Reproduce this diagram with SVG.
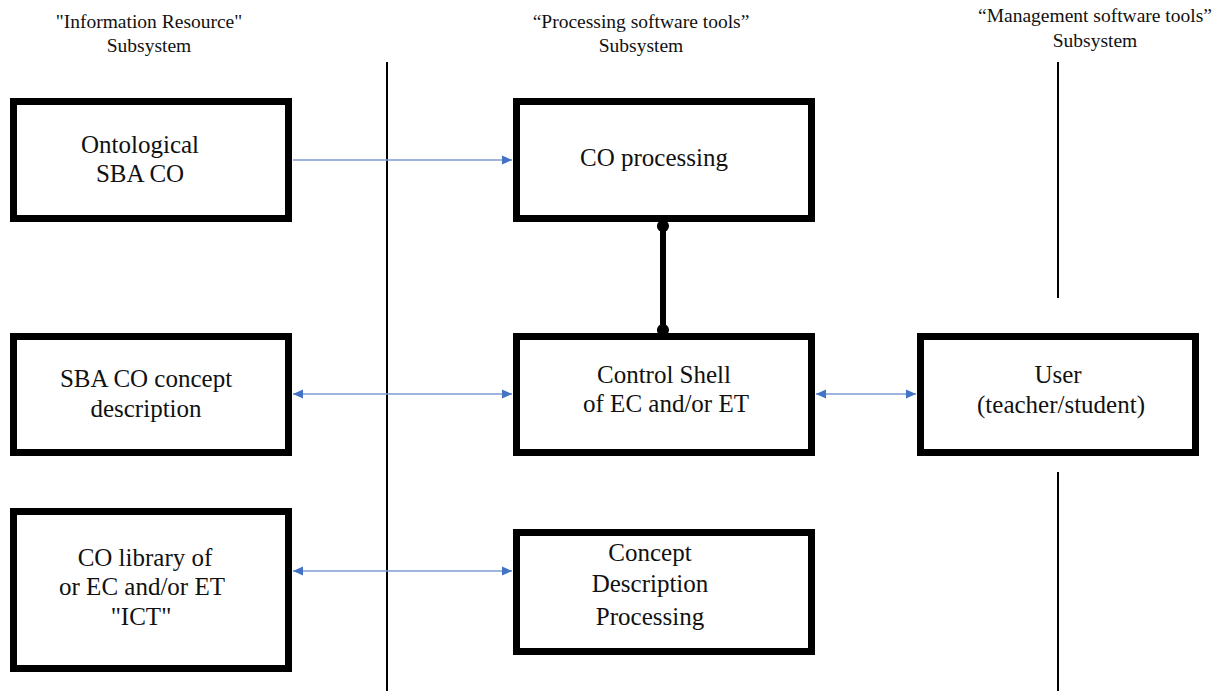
<svg xmlns="http://www.w3.org/2000/svg" width="1221" height="691" viewBox="0 0 1221 691">
<style>
.box{fill:#fff;stroke:#000;stroke-width:7}
.t{font-family:'Liberation Serif','Times New Roman',serif;font-size:25px;fill:#111;text-anchor:middle}
.h{font-family:'Liberation Serif','Times New Roman',serif;font-size:19.5px;fill:#111;text-anchor:middle}
.sep{stroke:#000;stroke-width:2}
.link{stroke:#7D9BD2;stroke-width:1.6;fill:none}
</style>
<defs>
<marker id="ah" viewBox="0 0 10 10" refX="10" refY="5" markerWidth="10" markerHeight="10" markerUnits="userSpaceOnUse" orient="auto-start-reverse">
<path d="M0,0.5 L10,5 L0,9.5 Z" fill="#4472C4"/>
</marker>
<marker id="dot" viewBox="0 0 14 14" refX="7" refY="7" markerWidth="13" markerHeight="13" markerUnits="userSpaceOnUse">
<circle cx="7" cy="7" r="6.5" fill="#000"/>
</marker>
</defs>
<rect width="1221" height="691" fill="#fff"/>
<g id="headers">
<text class="h" x="149" y="28">"Information Resource"</text>
<text class="h" x="149" y="52">Subsystem</text>
<text class="h" x="641" y="28">“Processing software tools”</text>
<text class="h" x="641" y="52">Subsystem</text>
<text class="h" x="1095" y="22">“Management software tools”</text>
<text class="h" x="1095" y="47">Subsystem</text>
</g>
<g id="separators">
<line class="sep" x1="387" y1="62" x2="387" y2="691"/>
<line class="sep" x1="1058" y1="62" x2="1058" y2="298"/>
<line class="sep" x1="1058" y1="472" x2="1058" y2="691"/>
</g>
<g id="connectors">
<line class="link" x1="293" y1="160" x2="512" y2="160" marker-end="url(#ah)"/>
<line class="link" x1="293" y1="394" x2="512" y2="394" marker-start="url(#ah)" marker-end="url(#ah)"/>
<line class="link" x1="816" y1="394" x2="916" y2="394" marker-start="url(#ah)" marker-end="url(#ah)"/>
<line class="link" x1="293" y1="571" x2="512" y2="571" marker-start="url(#ah)" marker-end="url(#ah)"/>
<line x1="663" y1="226" x2="663" y2="330" stroke="#000" stroke-width="6" marker-start="url(#dot)" marker-end="url(#dot)"/>
</g>
<g id="n-ontological">
<rect class="box" x="13.5" y="101.5" width="275" height="117"/>
<text class="t" x="140" y="153">Ontological</text>
<text class="t" x="140" y="182">SBA CO</text>
</g>
<g id="n-concept-description">
<rect class="box" x="13.5" y="336.5" width="275" height="116"/>
<text class="t" x="146" y="387">SBA CO concept</text>
<text class="t" x="146" y="417">description</text>
</g>
<g id="n-library">
<rect class="box" x="13.5" y="511.5" width="275" height="157"/>
<text class="t" x="145" y="566">CO library of</text>
<text class="t" x="142" y="595">or EC and/or ET</text>
<text class="t" x="141" y="625">"ICT"</text>
</g>
<g id="n-co-processing">
<rect class="box" x="516.5" y="101.5" width="295" height="117"/>
<text class="t" x="654" y="166">CO processing</text>
</g>
<g id="n-control-shell">
<rect class="box" x="516.5" y="336.5" width="295" height="116"/>
<text class="t" x="664" y="383">Control Shell</text>
<text class="t" x="666" y="412">of EC and/or ET</text>
</g>
<g id="n-cdp">
<rect class="box" x="516.5" y="532.5" width="295" height="119"/>
<text class="t" x="650" y="561">Concept</text>
<text class="t" x="650" y="592">Description</text>
<text class="t" x="650" y="625">Processing</text>
</g>
<g id="n-user">
<rect class="box" x="920.5" y="336.5" width="275" height="116"/>
<text class="t" x="1058" y="383">User</text>
<text class="t" x="1061" y="413">(teacher/student)</text>
</g>
</svg>
